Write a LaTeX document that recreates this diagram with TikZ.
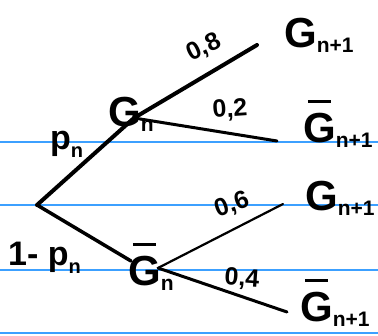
\documentclass[tikz,border=0pt]{standalone}
\usepackage{fontspec}
\setmainfont{Liberation Sans}
\definecolor{ruled}{RGB}{60,160,255}
\newcommand\Gsub[1]{G\raisebox{-5pt}{\fontsize{21}{21}\selectfont #1}}
\newcommand\Gbar{\ooalign{G\cr\hidewidth\rule[0.95em]{0.55em}{3pt}\hidewidth\cr}}
\newcommand\Gbsub[1]{\Gbar\raisebox{-5pt}{\fontsize{21}{21}\selectfont #1}}
\newcommand\Psub{p\raisebox{-8pt}{\fontsize{20}{20}\selectfont n}}
\tikzset{
  ruleline/.style={draw=ruled, line width=1.4pt},
  branch/.style={draw=black, line cap=round},
  glabel/.style={anchor=base west, inner sep=0pt, font=\fontsize{42}{42}\selectfont\bfseries},
  plabel/.style={anchor=base west, inner sep=0pt, font=\fontsize{34}{34}\selectfont\bfseries},
  nlabel/.style={inner sep=0pt, font=\fontsize{25}{25}\selectfont\bfseries}
}
\begin{document}
\begin{tikzpicture}[x=1pt,y=-1pt]
\useasboundingbox[fill=white] (0,0) rectangle (378,336);
% ruled paper lines
\coordinate (r1a) at (0,142); \coordinate (r1b) at (378,142);
\coordinate (r2a) at (0,205); \coordinate (r2b) at (378,205);
\coordinate (r3a) at (0,270); \coordinate (r3b) at (378,270);
\coordinate (r4a) at (0,333); \coordinate (r4b) at (378,333);
\draw[ruleline] (r1a) -- (r1b);
\draw[ruleline] (r2a) -- (r2b);
\draw[ruleline] (r3a) -- (r3b);
\draw[ruleline] (r4a) -- (r4b);
% tree points
\coordinate (root) at (37,205);
\coordinate (up) at (134,118);
\coordinate (lo) at (131,261);
\coordinate (lo2) at (158,268);
\coordinate (e1) at (257,45);
\coordinate (e2) at (277,141);
\coordinate (e3) at (283,204);
\coordinate (e4) at (287,312);
% branches
\draw[branch, line width=4pt] (root) -- (up);
\draw[branch, line width=3.5pt] (root) -- (lo);
\draw[branch, line width=4pt] (up) -- (e1);
\draw[branch, line width=3pt] (up) -- (e2);
\draw[branch, line width=2.2pt] (lo2) -- (e3);
\draw[branch, line width=3pt] (lo2) -- (e4);
% event labels
\node[glabel] (Gn) at (108,127) {\Gsub{n}};
\node[glabel] (Gbn) at (128,286) {\Gbsub{n}};
\node[glabel] (G1) at (284,48) {\Gsub{n+1}};
\node[glabel] (G2) at (303,143) {\Gbsub{n+1}};
\node[glabel] (G3) at (305,211) {\Gsub{n+1}};
\node[glabel] (G4) at (300,322) {\Gbsub{n+1}};
% probabilities
\node[plabel] (pn) at (50,150) {\Psub};
\node[plabel] (qn) at (8,266) {1- \Psub};
\node[nlabel, rotate=26] (p08) at (204,48) {0,8};
\node[nlabel, rotate=4] (p02) at (230,110) {0,2};
\node[nlabel, rotate=20] (p06) at (232,205) {0,6};
\node[nlabel, rotate=-4] (p04) at (242,279) {0,4};
\end{tikzpicture}
\end{document}
